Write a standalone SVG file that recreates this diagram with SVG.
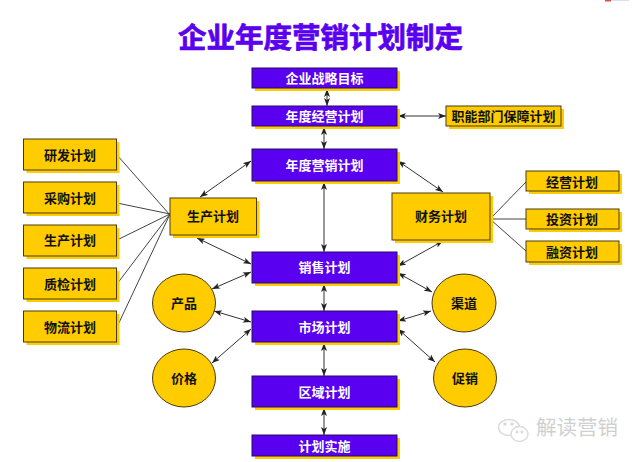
<svg xmlns="http://www.w3.org/2000/svg" width="640" height="462" viewBox="0 0 640 462">
<style>
.p{fill:#5a00f0;stroke:#2a0a60;stroke-width:1}
.y{fill:#ffcc00;stroke:#4a3a10;stroke-width:1}
.s{fill:#ffcc00}
.t{font-family:"Liberation Sans","Noto Sans CJK SC",sans-serif;font-size:13px;font-weight:700;text-anchor:middle}
.w{fill:#fff}
.k{fill:#111}
.l{fill:none;stroke:#444;stroke-width:1}
.a{fill:none;stroke:#333;stroke-width:1;marker-start:url(#m);marker-end:url(#m)}
</style>
<defs>
<marker id="m" viewBox="0 0 8 6" refX="8" refY="3" markerWidth="8" markerHeight="6" markerUnits="userSpaceOnUse" orient="auto-start-reverse"><path d="M0 0L8 3L0 6L2 3Z" fill="#222"/></marker>
</defs>
<rect width="640" height="462" fill="#fff"/>
<rect x="605" y="0" width="6" height="1.500" fill="#e05040"/><rect x="611" y="0" width="18" height="1" fill="#dde"/>
<text x="320.500" y="48" style="font-family:'Liberation Sans','Noto Sans CJK SC',sans-serif;font-size:28.500px;font-weight:700;text-anchor:middle;fill:#5a00f0;stroke:#5a00f0;stroke-width:0.700">企业年度营销计划制定</text>
<g id="connectors">
<path class="l" d="M117 155L170 215M117 203L170 214M117 240L170 214M117 284L170 214M117 327L170 214M490 219L526 182M490 219H526M490 219L526 251"/>
<path class="a" d="M327 89V106"/><path class="a" d="M324 127V149"/><path class="a" d="M324 182V252"/><path class="a" d="M324 284V311"/><path class="a" d="M324 343V376"/><path class="a" d="M324 408V435"/><path class="a" d="M398 116H446"/><path class="a" d="M251 161L200 197"/><path class="a" d="M398 161L443 192"/><path class="a" d="M197 238L251 264"/><path class="a" d="M443 241L398 266"/><path class="a" d="M212 289L251 272"/><path class="a" d="M214 311L251 322"/><path class="a" d="M212 363L251 329"/><path class="a" d="M398 273L432 292"/><path class="a" d="M398 321L431 311"/><path class="a" d="M398 329L435 362"/>
</g>
<g id="n-goal"><rect class="s" x="255" y="71" width="145" height="20"/><rect class="p" x="252" y="68" width="145" height="20"/><text class="t w" x="324.500" y="83">企业战略目标</text></g>
<g id="n-biz"><rect class="s" x="255" y="109" width="145" height="20"/><rect class="p" x="252" y="106" width="145" height="20"/><text class="t w" x="324.500" y="121">年度经营计划</text></g>
<g id="n-mkt"><rect class="s" x="255" y="152" width="145" height="32"/><rect class="p" x="252" y="149" width="145" height="32"/><text class="t w" x="324.500" y="170">年度营销计划</text></g>
<g id="n-sales"><rect class="s" x="255" y="255" width="145" height="31"/><rect class="p" x="252" y="252" width="145" height="31"/><text class="t w" x="324.500" y="272">销售计划</text></g>
<g id="n-market"><rect class="s" x="255" y="314" width="145" height="31"/><rect class="p" x="252" y="311" width="145" height="31"/><text class="t w" x="324.500" y="332">市场计划</text></g>
<g id="n-region"><rect class="s" x="255" y="379" width="145" height="31"/><rect class="p" x="252" y="376" width="145" height="31"/><text class="t w" x="324.500" y="397">区域计划</text></g>
<g id="n-impl"><rect class="s" x="255" y="438" width="145" height="21"/><rect class="p" x="252" y="435" width="145" height="21"/><text class="t w" x="324.500" y="451">计划实施</text></g>
<g id="n-func"><rect class="s" x="449" y="109" width="115" height="20"/><rect class="y" x="446" y="106" width="115" height="20"/><text class="t k" x="503.500" y="121">职能部门保障计划</text></g>
<g id="n-rd"><rect class="s" x="26.500" y="142" width="93" height="31"/><rect class="y" x="23.500" y="139" width="93" height="31"/><text class="t k" x="70" y="160">研发计划</text></g>
<g id="n-buy"><rect class="s" x="26.500" y="185" width="93" height="31"/><rect class="y" x="23.500" y="182" width="93" height="31"/><text class="t k" x="70" y="203">采购计划</text></g>
<g id="n-prod"><rect class="s" x="26.500" y="228" width="93" height="31"/><rect class="y" x="23.500" y="225" width="93" height="31"/><text class="t k" x="70" y="245">生产计划</text></g>
<g id="n-qc"><rect class="s" x="26.500" y="271" width="93" height="31"/><rect class="y" x="23.500" y="268" width="93" height="31"/><text class="t k" x="70" y="289">质检计划</text></g>
<g id="n-log"><rect class="s" x="26.500" y="314" width="93" height="31"/><rect class="y" x="23.500" y="311" width="93" height="31"/><text class="t k" x="70" y="332">物流计划</text></g>
<g id="n-prodplan"><rect class="s" x="173" y="201" width="86.500" height="37"/><rect class="y" x="170" y="198" width="86.500" height="37"/><text class="t k" x="213" y="221">生产计划</text></g>
<g id="n-fin"><rect class="s" x="395" y="196" width="98" height="47"/><rect class="y" x="392" y="193" width="98" height="47"/><text class="t k" x="441" y="221">财务计划</text></g>
<g id="n-op"><rect class="s" x="529" y="174" width="93" height="20"/><rect class="y" x="526" y="171" width="93" height="20"/><text class="t k" x="572" y="187">经营计划</text></g>
<g id="n-inv"><rect class="s" x="529" y="212" width="93" height="20"/><rect class="y" x="526" y="209" width="93" height="20"/><text class="t k" x="572" y="224">投资计划</text></g>
<g id="n-finc"><rect class="s" x="529" y="244" width="93" height="21"/><rect class="y" x="526" y="241" width="93" height="21"/><text class="t k" x="572" y="257">融资计划</text></g>
<g id="n-product"><ellipse class="y" cx="184" cy="303" rx="31.500" ry="29"/><text class="t k" x="184" y="308">产品</text></g>
<g id="n-price"><ellipse class="y" cx="184" cy="378" rx="31.500" ry="29"/><text class="t k" x="184" y="383">价格</text></g>
<g id="n-channel"><ellipse class="y" cx="464" cy="303" rx="32" ry="29"/><text class="t k" x="464" y="308">渠道</text></g>
<g id="n-promo"><ellipse class="y" cx="465" cy="378" rx="31.500" ry="29"/><text class="t k" x="465" y="383">促销</text></g>
<g id="watermark" fill="none" stroke="#dcdcdc" stroke-width="1.500"><ellipse cx="509" cy="427.500" rx="10.500" ry="8"/><ellipse cx="519.500" cy="434" rx="8.500" ry="7.500" fill="#fff"/><circle cx="505" cy="424" r="1" fill="#dcdcdc"/><circle cx="512" cy="424" r="1" fill="#dcdcdc"/><circle cx="517" cy="432" r="0.800" fill="#dcdcdc"/><circle cx="522" cy="432" r="0.800" fill="#dcdcdc"/></g>
<text x="536" y="435" style="font-family:'Noto Sans CJK SC',sans-serif;font-size:20.500px;fill:#d0d0d0">解读营销</text>
</svg>
